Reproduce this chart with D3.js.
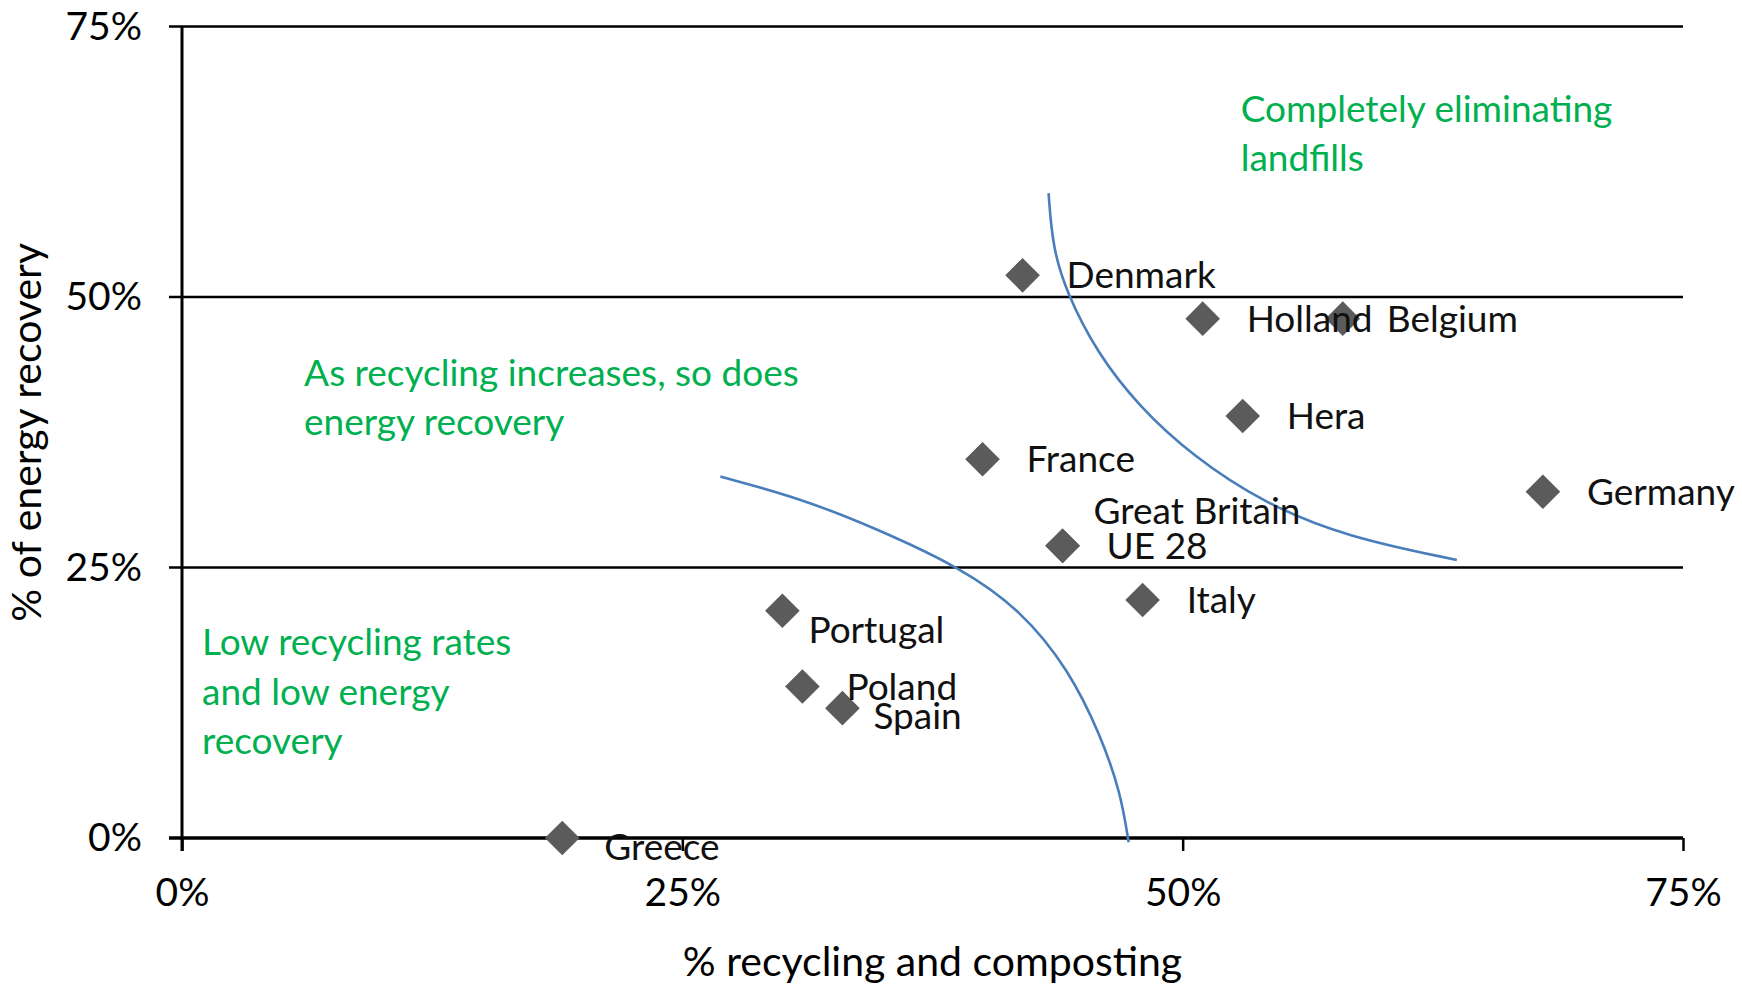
<!DOCTYPE html>
<html>
<head>
<meta charset="utf-8">
<script src="https://cdn.jsdelivr.net/npm/d3@7"></script>
<style>
  html, body { margin: 0; padding: 0; background: #fff; }
  svg { display: block; font-family: Lato, "Open Sans", sans-serif; }
</style>
</head>
<body>
<svg id="chart" width="1742" height="984"></svg>
<script>
// Municipal waste: recycling/composting share vs energy recovery share (%)
const countries = ["Denmark", "Holland", "Belgium", "Hera", "France", "Germany",
                   "Great Britain", "UE 28", "Italy", "Portugal", "Poland", "Spain", "Greece"];
const recycling = [42, 51, 58, 53, 40, 68, 44, 44, 48, 30, 31, 33, 19];
const energyRecovery = [52, 48, 48, 39, 35, 32, 27, 27, 22, 21, 14, 12, 0];

const xTicks = [0, 25, 50, 75];
const yTicks = [0, 25, 50, 75];
const xTitle = "% recycling and composting";
const yTitle = "% of energy recovery";

// Hand-drawn boundary arcs, expressed in chart units (% recycling, % energy)
const lowZoneArc = [[26.9, 33.4], [30.9, 31.4], [34.7, 28.6], [38.9, 25.0], [41.9, 21.1],
                    [44.3, 15.6], [45.9, 9.5], [46.9, 4.2], [47.3, -0.4]];
const highZoneArc = [[43.3, 59.6], [43.5, 54.6], [44.2, 50.4], [45.7, 44.9], [47.8, 39.9],
                     [50.5, 35.3], [54.0, 31.0], [58.2, 27.8], [63.7, 25.7]];

// Zone captions, anchored in chart units
const zoneNotes = [
  { lines: ["Completely eliminating", "landfills"], at: [52.9, 66.2] },
  { lines: ["As recycling increases, so does", "energy recovery"], at: [6.1, 41.8] },
  { lines: ["Low recycling rates", "and low energy", "recovery"], at: [1.0, 16.9] }
];

const svg = d3.select("#chart");
const margin = { top: 26.5, right: 59, bottom: 146, left: 182 };
const W = +svg.attr("width"), H = +svg.attr("height");
const width = W - margin.left - margin.right;
const height = H - margin.top - margin.bottom;

const x = d3.scaleLinear().domain([0, 75]).range([0, width]);
const y = d3.scaleLinear().domain([0, 75]).range([height, 0]);

const g = svg.append("g").attr("transform", `translate(${margin.left},${margin.top})`);
const tickLen = 13;

// Horizontal reference lines (include the left tick stub)
g.selectAll("line.grid").data(yTicks).join("line")
  .attr("class", "grid")
  .attr("x1", -tickLen).attr("x2", width)
  .attr("y1", d => y(d)).attr("y2", d => y(d))
  .attr("stroke", "#000")
  .attr("stroke-width", d => d === 0 ? 3.5 : 2.6);

// Vertical axis line
g.append("line")
  .attr("x1", x(0)).attr("x2", x(0))
  .attr("y1", y(75)).attr("y2", y(0) + tickLen)
  .attr("stroke", "#000").attr("stroke-width", 3);

// Y axis tick labels
const yAxis = d3.axisLeft(y).tickValues(yTicks).tickSize(0).tickPadding(0)
  .tickFormat(d => d + "%");
const yg = g.append("g").attr("transform", "translate(-40,0)").call(yAxis);
yg.select(".domain").remove();
yg.selectAll("text")
  .attr("font-family", "Lato, sans-serif").attr("font-size", 39)
  .attr("fill", "#000").attr("dy", "0.33em");

// X axis ticks + labels
const xAxis = d3.axisBottom(x).tickValues(xTicks).tickSize(tickLen).tickPadding(27)
  .tickFormat(d => d + "%");
const xg = g.append("g").attr("transform", `translate(0,${height})`).call(xAxis);
xg.select(".domain").remove();
xg.selectAll(".tick line").attr("stroke", "#000").attr("stroke-width", 2.5);
xg.selectAll("text")
  .attr("font-family", "Lato, sans-serif").attr("font-size", 39)
  .attr("fill", "#000");

// Axis titles
svg.append("text")
  .attr("x", margin.left + width / 2).attr("y", 976)
  .attr("text-anchor", "middle")
  .attr("font-size", 41).attr("fill", "#000")
  .text(xTitle);
svg.append("text")
  .attr("transform", `translate(41,${margin.top + height / 2}) rotate(-90)`)
  .attr("text-anchor", "middle")
  .attr("font-size", 41).attr("fill", "#000")
  .text(yTitle);

// Boundary arcs
const arcLine = d3.line().x(d => x(d[0])).y(d => y(d[1])).curve(d3.curveBasis);
g.selectAll("path.arc").data([lowZoneArc, highZoneArc]).join("path")
  .attr("class", "arc")
  .attr("d", arcLine)
  .attr("fill", "none")
  .attr("stroke", "#4a7ebb")
  .attr("stroke-width", 2.6);

// Zone captions
zoneNotes.forEach(n => {
  const t = g.append("text")
    .attr("x", x(n.at[0])).attr("y", y(n.at[1]))
    .attr("font-size", 37).attr("fill", "#00b050");
  n.lines.forEach((ln, i) => {
    t.append("tspan").attr("x", x(n.at[0])).attr("dy", i === 0 ? 0 : 49.5).text(ln);
  });
});

// Points
const points = countries.map((name, i) => ({ name, rx: recycling[i], ey: energyRecovery[i] }));
const diamond = d3.symbol().type(d3.symbolSquare).size(600);
g.selectAll("path.pt").data(points).join("path")
  .attr("class", "pt")
  .attr("d", diamond)
  .attr("transform", d => `translate(${x(d.rx)},${y(d.ey)}) rotate(45)`)
  .attr("fill", "#5b5b5b");

// Point labels: right of the marker, a few nudged to avoid overlaps
const labelNudge = {
  "Great Britain": [31, -22],
  "Portugal": [26, 32],
  "Spain": [31, 21],
  "Greece": [42, 22]
};
g.selectAll("text.lbl").data(points).join("text")
  .attr("class", "lbl")
  .attr("x", d => x(d.rx) + (labelNudge[d.name] || [44, 13])[0])
  .attr("y", d => y(d.ey) + (labelNudge[d.name] || [44, 13])[1])
  .attr("font-size", 37).attr("fill", "#111")
  .text(d => d.name);
</script>
</body>
</html>
